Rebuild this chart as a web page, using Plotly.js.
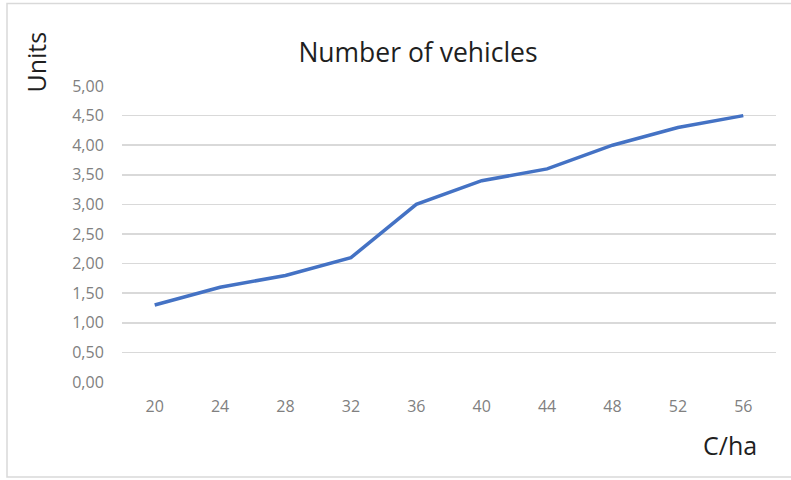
<!DOCTYPE html>
<html>
<head>
<meta charset="utf-8">
<script src="https://cdn.plot.ly/plotly-3.0.1.min.js"></script>
<style>
  html, body { margin: 0; padding: 0; background: #ffffff; }
  #chart { width: 791px; height: 480px; }
</style>
</head>
<body>
<div id="chart"></div>
<script>
// Stocking rate categories (C/ha) and vehicles required
const categories = ['20', '24', '28', '32', '36', '40', '44', '48', '52', '56'];
const vehicles = [1.3, 1.6, 1.8, 2.1, 3.0, 3.4, 3.6, 4.0, 4.3, 4.5];
const yTicks = [0, 0.5, 1, 1.5, 2, 2.5, 3, 3.5, 4, 4.5, 5];

const FONT = '"Open Sans", "Noto Sans", sans-serif';
const TITLE_COLOR = '#1f1f1f';
const TICK_COLOR = '#808080';

const trace = {
  x: categories,
  y: vehicles,
  type: 'scatter',
  mode: 'lines',
  line: { color: '#4472C4', width: 3.5 },
  hoverinfo: 'skip'
};

const layout = {
  width: 791,
  height: 480,
  margin: { l: 122, r: 15, t: 86, b: 98 },
  paper_bgcolor: '#ffffff',
  plot_bgcolor: '#ffffff',
  separators: ',.',
  showlegend: false,
  font: { family: FONT, color: TICK_COLOR },
  title: {
    text: 'Number of vehicles',
    font: { family: FONT, size: 26.5, color: TITLE_COLOR },
    xref: 'paper', x: (418 - 122) / 654, xanchor: 'center',
    yref: 'container', y: 1 - 53 / 480, yanchor: 'middle'
  },
  xaxis: {
    type: 'category',
    range: [-0.5, 9.5],
    showgrid: false,
    zeroline: false,
    showline: false,
    ticks: 'outside',
    ticklen: 10,
    tickcolor: 'rgba(0,0,0,0)',
    tickfont: { family: FONT, size: 16, color: TICK_COLOR }
  },
  yaxis: {
    range: [0, 5],
    tickvals: yTicks,
    tickformat: '.2f',
    showgrid: true,
    gridcolor: '#d9d9d9',
    gridwidth: 1.6,
    zeroline: false,
    showline: false,
    ticks: 'outside',
    ticklen: 14,
    tickcolor: 'rgba(0,0,0,0)',
    tickfont: { family: FONT, size: 16, color: TICK_COLOR }
  },
  annotations: [
    {
      text: 'Units',
      xref: 'paper', yref: 'paper',
      x: (35.5 - 122) / 654, y: (382 - 62) / 296,
      xanchor: 'center', yanchor: 'middle',
      textangle: -90,
      showarrow: false,
      font: { family: FONT, size: 25, color: TITLE_COLOR }
    },
    {
      text: 'C/ha',
      xref: 'paper', yref: 'paper',
      x: (730 - 122) / 654, y: (382 - 445) / 296,
      xanchor: 'center', yanchor: 'middle',
      showarrow: false,
      font: { family: FONT, size: 25, color: TITLE_COLOR }
    }
  ],
  shapes: [
    {
      type: 'rect',
      xref: 'paper', yref: 'paper',
      x0: (7 - 122) / 654, x1: (795 - 122) / 654,
      y0: (382 - 477) / 296, y1: (382 - 3.5) / 296,
      line: { color: '#d9d9d9', width: 1.5 },
      fillcolor: 'rgba(0,0,0,0)',
      layer: 'below'
    }
  ]
};

Plotly.newPlot('chart', [trace], layout, { displayModeBar: false, staticPlot: true });
</script>
</body>
</html>
